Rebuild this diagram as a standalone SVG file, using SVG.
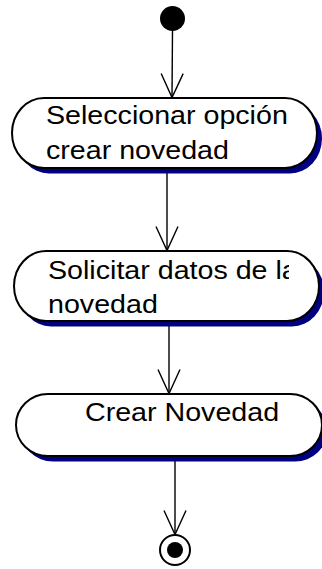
<svg xmlns="http://www.w3.org/2000/svg" width="322" height="569" viewBox="0 0 322 569">
  <style>
    .shadow { fill: #000080; stroke: none; }
    .act { fill: #ffffff; stroke: #000000; stroke-width: 2; }
    .lbl { font-family: "Liberation Sans", Arial, sans-serif; font-size: 26.5px; fill: #000000; }
    .edge { stroke: #000000; stroke-width: 1.4; fill: none; }
    .arrow { stroke: #000000; stroke-width: 1.4; fill: none; }
  </style>
  <defs>
    <marker id="open" markerUnits="userSpaceOnUse" viewBox="-26 -13 28 26" refX="0" refY="0" markerWidth="28" markerHeight="26" orient="auto" overflow="visible">
      <path class="arrow" d="M -24 -11 L 0 0 L -24 11"/>
    </marker>
    <clipPath id="clipText">
      <rect x="0" y="0" width="289" height="569"/>
    </clipPath>
  </defs>

  <g id="connectors">
    <line class="edge" x1="172.5" y1="30" x2="172" y2="97.5" marker-end="url(#open)"/>
    <line class="edge" x1="167" y1="168" x2="167" y2="250.5" marker-end="url(#open)"/>
    <line class="edge" x1="169" y1="321" x2="169" y2="393.5" marker-end="url(#open)"/>
    <line class="edge" x1="175" y1="456" x2="175" y2="534.5" marker-end="url(#open)"/>
  </g>

  <g id="start">
    <circle cx="172.5" cy="18.5" r="12.5" fill="#000000"/>
  </g>

  <g id="node1">
    <rect class="shadow" x="17" y="103.5" width="305" height="70" rx="32" ry="35"/>
    <rect class="act" x="12" y="98" width="305" height="70" rx="32" ry="35"/>
    <g clip-path="url(#clipText)">
      <text class="lbl" transform="translate(46,124) scale(1.08,1)">Seleccionar opción</text>
      <text class="lbl" transform="translate(46,158.7) scale(1.08,1)">crear novedad</text>
    </g>
  </g>

  <g id="node2">
    <rect class="shadow" x="19" y="256.5" width="305" height="70" rx="32" ry="35"/>
    <rect class="act" x="14" y="251" width="305" height="70" rx="32" ry="35"/>
    <g clip-path="url(#clipText)">
      <text class="lbl" transform="translate(48,278.5) scale(1.08,1)">Solicitar datos de la</text>
      <text class="lbl" transform="translate(48,313.2) scale(1.08,1)">novedad</text>
    </g>
  </g>

  <g id="node3">
    <rect class="shadow" x="21" y="399.5" width="306" height="62" rx="32" ry="31"/>
    <rect class="act" x="16" y="394" width="306" height="62" rx="32" ry="31"/>
    <text class="lbl" transform="translate(85,421) scale(1.08,1)">Crear Novedad</text>
  </g>

  <g id="end">
    <circle cx="175" cy="550" r="15" fill="#ffffff" stroke="#000000" stroke-width="2"/>
    <circle cx="175" cy="550" r="8" fill="#000000"/>
  </g>
</svg>
